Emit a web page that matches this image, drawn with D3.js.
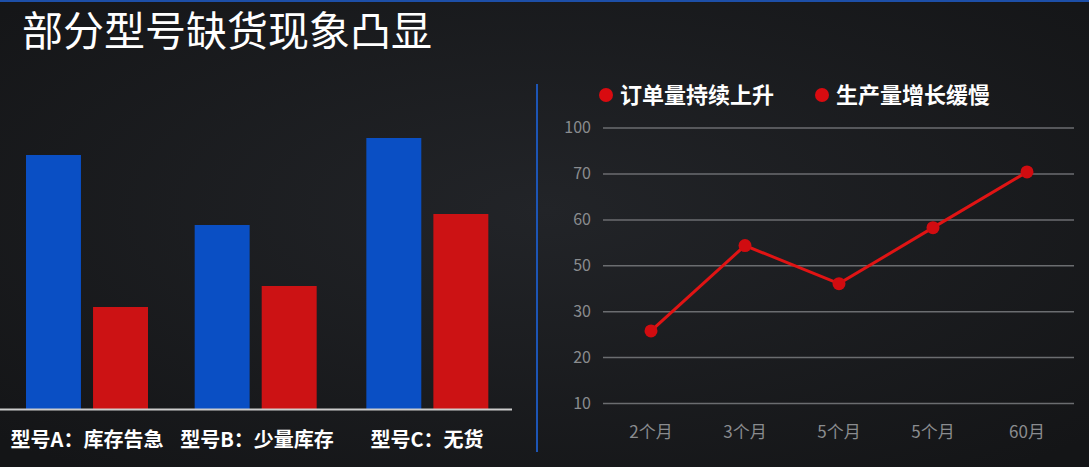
<!DOCTYPE html><html><head><meta charset="utf-8"><script src="https://cdn.jsdelivr.net/npm/d3@7"></script>
<style>body{margin:0;background:#1b1c1f;}svg{display:block}</style></head><body><svg width="1089" height="467"></svg>
<script>
const title="部分型号缺货现象凸显";
const barCats=["型号A：库存告急","型号B：少量库存","型号C：无货"];
const orders=[254,184,271];
const production=[102,123,195];
const lineCats=["2个月","3个月","5个月","5个月 ","60月"];
const lineVals=[25.7,54.3,42,58.2,71];
const yTicks=[10,20,30,50,60,70,100];
const legend=["订单量持续上升","生产量增长缓慢"];
const F="'Noto Sans CJK SC','Noto Sans',sans-serif";
const svg=d3.select("svg");
const defs=svg.append("defs");
const g0=defs.append("radialGradient").attr("id","bg").attr("cx","50%").attr("cy","45%").attr("r","70%");
g0.append("stop").attr("offset","0").attr("stop-color","#222428");
g0.append("stop").attr("offset","1").attr("stop-color","#141517");
svg.append("rect").attr("width",1089).attr("height",467).attr("fill","url(#bg)");
svg.append("rect").attr("width",1089).attr("height",2).attr("fill","#1d4fa8");
svg.append("text").attr("x",22).attr("y",46).attr("fill","#fff").attr("font-family",F).attr("font-size",41).text(title);
// bars
const x0=d3.scaleBand().domain(barCats).range([8,508]);
const x1=d3.scaleBand().domain([0,1]).range([18,140]).paddingInner(0.18);
const yb=d3.scaleLinear().domain([0,280]).range([409,129]);
const offs=[0,2,7], lcx=[87,257,427];
barCats.forEach((c,i)=>{
  const gx=x0(c)+offs[i];
  [[orders[i],"#0a4fc4",0],[production[i],"#cc1214",1]].forEach(([v,col,k])=>{
    svg.append("rect").attr("x",gx+x1(k)).attr("y",yb(v)).attr("width",x1.bandwidth()).attr("height",409-yb(v)).attr("fill",col);
  });
  svg.append("text").attr("x",lcx[i]).attr("y",447).attr("text-anchor","middle").attr("fill","#fff").attr("font-weight","bold").attr("font-family",F).attr("font-size",20).text(c);
});
svg.append("line").attr("x1",0).attr("x2",512).attr("y1",409.5).attr("y2",409.5).attr("stroke","#ccc").attr("stroke-width",2);
svg.append("line").attr("x1",537).attr("x2",537).attr("y1",84).attr("y2",452).attr("stroke","#1d55b5").attr("stroke-width",2);
// line chart
const xp=d3.scalePoint().domain(lineCats).range([651,1027]).padding(0);
const yl=d3.scaleLinear().domain(yTicks).range(yTicks.map((d,i)=>403-i*45.9));
const ax=svg.append("g").attr("transform","translate(603,0)").call(d3.axisLeft(yl).tickValues(yTicks).tickPadding(8));
ax.select(".domain").remove();
ax.selectAll(".tick line").attr("stroke","#6b6d70").attr("stroke-width",1.5).attr("x1",0).attr("x2",471);
ax.selectAll(".tick text").attr("fill","#8a8c8f").attr("font-family",F).attr("font-size",16).attr("x",-12);
svg.append("g").selectAll("text").data(lineCats).join("text").attr("x",d=>xp(d)).attr("y",438).attr("text-anchor","middle").attr("fill","#8a8c8f").attr("font-family",F).attr("font-size",17).text(d=>d.trim());
const pts=lineCats.map((c,i)=>[xp(c),yl(lineVals[i])]);
svg.append("path").attr("d",d3.line()(pts)).attr("fill","none").attr("stroke","#e01414").attr("stroke-width",3);
svg.selectAll("circle.p").data(pts).join("circle").attr("cx",d=>d[0]).attr("cy",d=>d[1]).attr("r",6.5).attr("fill","#d10c10");
const lx=[606,822];
legend.forEach((t,i)=>{
  svg.append("circle").attr("cx",lx[i]).attr("cy",95).attr("r",7).attr("fill","#d90b10");
  svg.append("text").attr("x",lx[i]+14).attr("y",103).attr("fill","#fff").attr("font-weight","bold").attr("font-family",F).attr("font-size",22).text(t);
});
</script></body></html>
